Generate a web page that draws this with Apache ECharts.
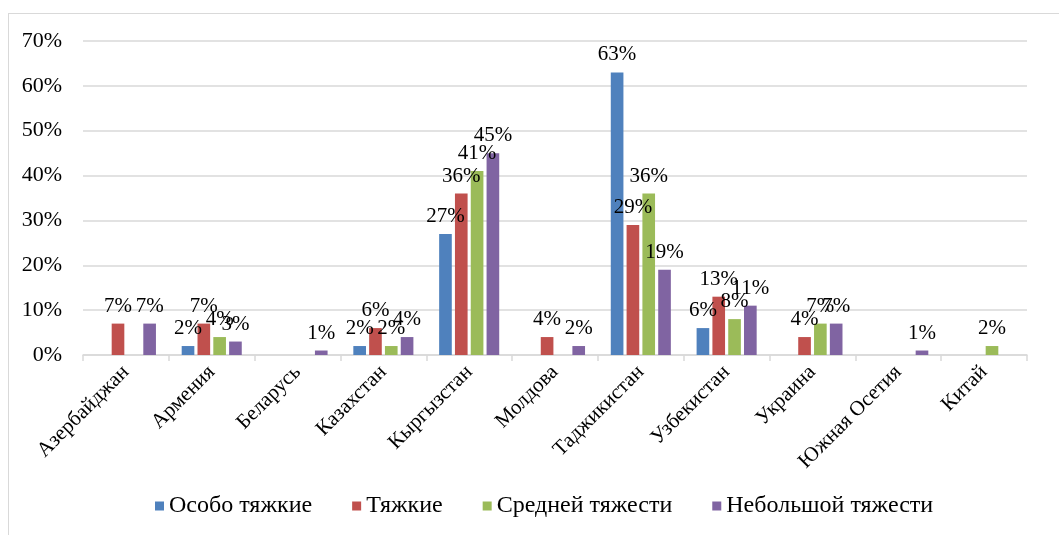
<!DOCTYPE html>
<html><head><meta charset="utf-8">
<script src="https://cdn.jsdelivr.net/npm/echarts@6/dist/echarts.min.js"></script>
<style>
html,body{margin:0;padding:0;background:#fff;overflow:hidden;}
#frame{position:absolute;left:8px;top:13px;width:1200px;height:600px;border:1px solid #d9d9d9;box-sizing:border-box;}
#c{position:absolute;left:0;top:0;width:1059px;height:535px;}
</style></head>
<body>
<div id="frame"></div>
<div id="c"></div>
<script>
const categories = ['Азербайджан','Армения','Беларусь','Казахстан','Кыргызстан','Молдова','Таджикистан','Узбекистан','Украина','Южная Осетия','Китай'];
const seriesNames = ['Особо тяжкие','Тяжкие','Средней тяжести','Небольшой тяжести'];
const osoboTyazhkie   = [0, 2, 0, 2, 27, 0, 63, 6, 0, 0, 0];
const tyazhkie        = [7, 7, 0, 6, 36, 4, 29, 13, 4, 0, 0];
const sredneyTyazhesti= [0, 4, 0, 2, 41, 0, 36, 8, 7, 0, 2];
const nebolshoy       = [7, 3, 1, 4, 45, 2, 19, 11, 7, 1, 0];
const yTicks = [0,10,20,30,40,50,60,70];

const colors = ['#4f81bd','#c0504d','#9bbb59','#8064a2'];
const font = '"Liberation Serif","Times New Roman",serif';
const allData = [osoboTyazhkie, tyazhkie, sredneyTyazhesti, nebolshoy];

const chart = echarts.init(document.getElementById('c'));
chart.setOption({
  animation:false,
  textStyle:{fontFamily:font},
  grid:{left:83,right:32,top:41,bottom:180},
  legend:{
    bottom:12,left:150,itemWidth:9,itemHeight:9,itemGap:40,icon:'rect',
    textStyle:{fontFamily:font,fontSize:24,color:'#000'},
    data:seriesNames
  },
  xAxis:{
    type:'category',data:categories,
    axisLine:{lineStyle:{color:'#d9d9d9',width:1.5}},
    axisTick:{show:true,length:6,lineStyle:{color:'#d9d9d9',width:1.5}},
    axisLabel:{rotate:45,fontFamily:font,fontSize:21,color:'#000',margin:14,interval:0}
  },
  yAxis:{
    type:'value',min:yTicks[0],max:yTicks[yTicks.length-1],interval:10,
    axisLine:{show:false},axisTick:{show:false},
    splitLine:{lineStyle:{color:'#d9d9d9',width:1.5}},
    axisLabel:{formatter:v=>v+'%',fontFamily:font,fontSize:22,color:'#000',margin:21}
  },
  series: seriesNames.map((n,i)=>({
    name:n,type:'bar',data:allData[i],
    barGap:'25%',barCategoryGap:'30%',
    itemStyle:{color:colors[i]},
    label:{show:true,position:'top',distance:7,fontFamily:font,fontSize:21,color:'#000',
      formatter:p=>p.value? p.value+'%':''}
  }))
});
</script>
</body></html>
